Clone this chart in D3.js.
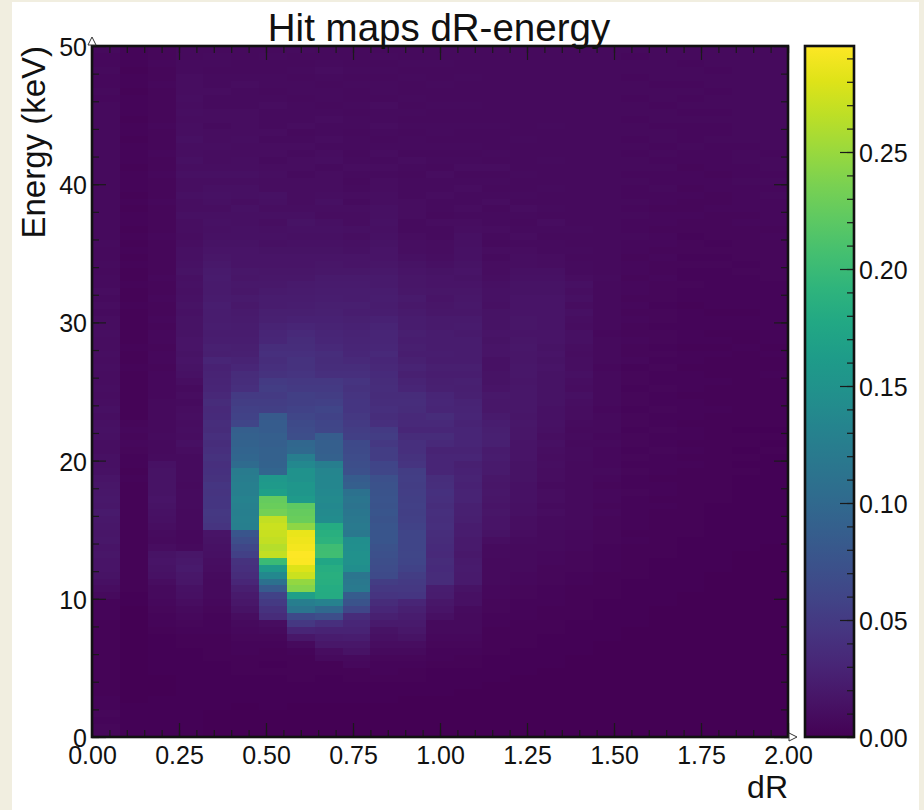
<!DOCTYPE html>
<html>
<head>
<meta charset="utf-8">
<script src="https://cdn.jsdelivr.net/npm/d3@7"></script>
<style>
  html, body { margin: 0; padding: 0; background: #f1eee0; }
  svg { display: block; }
  text { font-family: "Liberation Sans", Arial, sans-serif; fill: #111; }
</style>
</head>
<body>
<div id="chart"></div>
<script>
// --- DATOS ---
// una lista por bin de dR (ancho 0.08), 100 valores de abajo arriba (0.5 keV cada uno), en unidades de 0.001
const col00 = [5,5,4,5,4,4,3,3,3,3, 3,3,3,3,3,3,3,4,4,4, 8,10,12,14,16,16,17,16,18,17, 18,19,20,18,19,18,17,16,13,12,
  12,11,11,12,13,12,11,12,11,10, 11,10,10,11,10,11,10,10,11,10, 10,9,10,9,10,9,9,8,9,8, 8,9,8,8,7,8,7,8,7,7, 7,8,7,8,7,7,8,7,7,8, 7,7,6,7,6,6,7,6,6,7];
const col01 = [2,2,2,2,2,1,1,1,1,1, 1,1,1,1,1,1,1,1,1,2, 2,3,3,3,3,3,3,3,3,3, 3,3,3,3,3,3,3,4,3,4,
  4,5,6,5,6,5,3,3,3,3, 3,3,3,4,3,3,4,3,3,3, 3,3,4,3,3,4,3,3,4,3, 4,3,4,3,4,4,3,4,3,4, 4,4,3,4,4,4,3,4,4,3, 4,4,4,3,4,4,3,4,4,4];
const col02 = [2,2,2,2,2,2,1,1,1,2, 2,2,2,2,2,3,4,4,5,6, 7,8,10,13,14,15,14,10,8,9, 11,12,13,14,15,14,14,14,14,13,
  9,8,8,9,8,8,7,7,7,6, 6,6,6,5,6,6,5,6,6,5, 6,5,5,6,5,5,6,5,5,5, 5,5,6,5,5,5,5,6,5,5, 5,6,5,5,6,5,5,5,6,5, 5,5,5,5,6,5,5,6,5,5];
const col03 = [2,2,2,2,2,2,2,2,2,2, 2,2,2,3,3,4,5,6,8,10, 12,13,17,18,20,19,17,7,6,6, 7,8,8,9,9,9,8,9,9,9,
  9,10,12,10,11,10,11,10,9,10, 9,11,13,14,15,14,15,16,14,14, 14,13,14,13,12,13,12,14,13,12, 12,11,10,11,11,12,11,11,12,11, 11,12,11,12,11,11,12,11,11,10, 11,10,11,10,10,10,9,9,8,8];
const col04 = [1,1,1,1,2,2,2,2,2,2, 2,3,3,3,3,4,4,4,5,6, 7,8,8,9,10,11,12,13,14,15, 44,47,48,46,45,44,46,42,41,40,
  42,40,38,40,36,38,35,34,36,33, 30,29,28,27,30,25,26,24,23,24, 23,22,24,21,20,20,21,20,19,17, 15,14,13,12,13,12,11,12,13,12, 11,12,11,10,10,11,10,10,9,10, 10,9,9,10,9,9,8,9,9,8];
const col05 = [1,1,1,1,1,2,2,2,2,3, 3,3,4,4,5,6,8,10,14,18, 20,25,32,36,40,42,56,62,70,78, 126,128,126,128,130,126,126,124,122,102,
  96,94,92,90,88,60,58,56,52,50, 40,38,36,32,28,26,25,24,23,22, 21,20,19,20,18,19,17,18,16,16, 15,14,13,13,12,12,13,11,12,12, 11,12,11,11,10,10,11,10,10,10, 10,9,9,9,10,9,8,8,8,8];
const col06 = [1,1,1,1,2,2,2,2,2,3, 2,3,3,4,5,7,10,36,42,50, 58,84,110,138,160,200,268,262,268,270, 272,268,232,228,225,165,160,158,95,92,
  90,90,88,88,85,85,82,55,52,50, 52,50,42,40,38,40,38,32,30,28, 26,25,23,22,20,19,18,17,16,15, 14,12,13,12,11,12,11,12,13,10, 10,11,10,9,10,10,9,10,9,9, 9,10,9,8,9,9,8,8,9,8];
const col07 = [1,1,1,1,1,2,2,2,3,3, 3,3,4,8,18,30,48,65,115,125, 165,240,248,272,280,293,295,290,288,285, 245,228,225,222,160,155,155,150,150,138,
  125,100,98,70,68,66,62,58,55,55, 50,48,44,42,42,40,38,36,34,30, 27,25,24,22,21,20,18,17,16,15, 14,13,12,13,14,12,11,10,10,10, 10,9,10,10,9,10,9,8,10,9, 9,9,8,9,9,8,9,8,8,9];
const col08 = [1,1,1,1,1,2,2,2,2,3, 3,7,10,18,22,28,40,70,100,130, 180,182,185,186,184,175,205,204,190,186, 182,142,140,138,140,138,136,135,134,125,
  90,88,88,86,62,60,58,60,56,52, 50,48,40,38,36,38,34,32,30,28, 27,26,25,24,23,21,20,18,17,15, 14,13,12,13,12,10,11,12,11,10, 10,10,9,11,10,9,10,9,9,10, 9,8,9,9,8,9,10,9,8,8];
const col09 = [1,1,1,1,1,2,2,2,3,3, 6,8,14,18,24,28,32,36,62,75, 85,120,118,115,145,148,148,146,145,118, 120,118,116,112,115,110,88,85,72,70,
  68,66,65,55,52,50,48,46,45,44, 42,44,40,38,34,32,30,29,28,27, 26,24,25,22,23,21,20,18,16,15, 13,12,11,12,10,10,11,9,10,9, 8,9,10,9,8,9,9,8,9,9, 8,9,8,8,9,8,9,8,8,8];
const col10 = [1,1,1,1,1,2,2,2,3,4, 4,5,8,10,12,14,20,26,32,36, 44,48,52,66,68,70,72,74,78,78, 78,76,78,75,77,76,74,72,62,60,
  52,52,48,52,50,40,38,40,38,36, 38,36,35,33,32,34,32,30,31,29, 27,24,23,24,22,20,20,19,17,16, 15,14,13,12,13,12,12,11,11,10, 10,9,10,9,10,9,8,9,10,9, 9,10,8,9,9,8,9,8,9,8];
const col11 = [1,1,1,1,1,1,2,2,3,3, 4,5,8,10,14,18,20,22,26,30, 46,48,50,52,58,60,62,60,61,60, 58,56,55,56,55,54,53,54,52,44,
  42,40,40,36,32,34,34,36,38,36, 30,28,26,28,26,24,25,24,25,23, 22,20,19,20,18,17,17,15,14,12, 11,11,10,9,9,10,10,10,9,9, 9,8,9,10,8,9,9,8,9,8, 9,8,9,8,8,9,8,9,8,8];
const col12 = [1,1,1,1,1,1,2,2,2,2, 3,4,4,5,6,7,8,12,15,18, 22,24,36,36,35,36,34,35,36,38, 40,39,40,38,40,41,39,38,30,31,
  30,28,34,36,32,34,36,30,32,30, 26,25,24,25,22,24,22,23,22,20, 20,18,17,16,17,15,15,14,12,11, 10,10,9,9,10,8,9,9,10,9, 9,10,8,9,8,9,8,9,9,8, 8,9,8,8,9,8,8,9,8,8];
const col13 = [1,1,1,1,1,1,1,2,2,2, 3,3,4,5,6,7,7,8,9,12, 12,14,20,20,21,20,19,20,20,22, 22,25,26,26,28,28,27,28,27,26,
  30,28,31,30,30,28,30,29,28,26, 25,26,24,25,23,22,23,22,20,21, 20,18,19,18,17,16,14,15,14,13, 13,12,12,11,10,9,10,9,9,10, 9,8,10,9,8,9,8,8,9,8, 8,9,8,8,8,9,8,8,8,8];
const col14 = [1,1,1,1,1,1,1,1,2,2, 2,2,3,3,3,3,4,4,5,5, 6,6,7,7,8,8,9,9,11,14, 16,16,17,16,17,18,17,18,20,20,
  22,21,26,26,25,24,20,18,18,19, 16,14,14,13,13,15,15,14,15,14, 14,14,12,13,13,12,11,10,10,9, 10,8,9,10,9,9,8,10,9,8, 9,8,10,8,9,8,7,8,9,8, 8,8,7,8,8,7,8,8,7,8];
const col15 = [1,1,1,1,1,1,1,1,1,2, 2,2,2,3,3,3,3,4,4,4, 5,5,6,6,7,7,8,8,9,10, 11,11,12,12,13,13,13,14,14,14,
  15,15,16,17,17,18,17,18,18,18, 18,17,18,18,17,17,18,17,16,17, 17,16,15,15,14,14,13,12,11,11, 10,9,10,9,8,9,10,8,9,8, 7,9,8,8,7,8,9,8,7,8, 8,7,8,8,7,8,7,8,8,7];
const col16 = [1,1,1,1,1,1,1,1,1,1, 2,2,2,2,2,3,3,3,3,4, 4,4,5,5,5,6,6,7,7,8, 9,9,10,9,10,10,9,10,10,11,
  10,11,12,11,12,13,13,13,14,14, 14,14,14,15,14,15,14,15,16,15, 15,16,15,15,14,14,13,12,10,10, 9,9,8,9,10,8,9,8,8,9, 8,7,8,9,8,7,8,8,9,8, 7,8,8,7,8,8,7,8,8,7];
const col17 = [1,1,1,1,1,1,1,1,1,1, 1,1,2,2,2,2,2,3,3,3, 3,3,4,4,5,5,5,6,6,6, 7,7,8,7,8,8,7,8,8,8,
  9,9,8,9,8,9,10,10,11,12, 10,11,12,11,11,10,11,12,12,10, 11,12,10,12,11,12,10,9,9,8, 9,8,8,9,8,7,8,8,7,8, 8,7,8,7,8,8,7,8,7,8, 7,8,7,7,8,7,8,7,7,8];
const col18 = [1,1,1,1,1,1,1,1,1,1, 1,1,1,1,2,2,2,2,2,2, 3,3,3,3,4,4,4,4,5,5, 5,5,6,5,6,6,5,6,7,6,
  6,6,7,6,8,7,7,6,7,7, 8,7,7,6,7,8,7,7,6,7, 8,7,8,8,7,8,9,8,8,7, 8,7,7,8,7,8,7,7,8,7, 7,7,8,7,7,8,7,7,7,8, 7,8,7,7,8,7,7,7,8,7];
const col19 = [1,1,1,1,1,1,1,1,1,1, 1,1,1,1,1,1,2,2,2,2, 2,2,2,3,3,3,3,3,4,3, 4,4,4,4,4,5,4,4,5,4,
  5,4,5,5,4,5,5,4,5,5, 4,5,5,4,6,5,5,6,5,5, 6,5,6,5,6,6,5,6,6,5, 6,6,7,6,6,7,6,7,6,6, 7,6,7,7,6,7,6,7,7,6, 7,7,6,7,7,6,7,7,6,7];
const col20 = [1,1,1,1,1,1,1,1,1,1, 1,1,1,1,1,1,1,1,1,2, 2,2,2,2,2,2,3,3,3,3, 3,3,3,4,3,4,4,3,4,4,
  4,5,4,4,5,4,4,5,4,4, 5,4,4,5,4,5,4,5,5,4, 5,5,4,5,5,5,6,5,5,6, 5,6,6,5,6,6,5,6,6,7, 6,6,7,6,7,6,7,7,6,7, 7,6,7,7,6,7,8,7,7,7];
const col21 = [1,1,1,1,1,1,1,1,1,1, 1,1,1,1,1,1,1,1,1,1, 1,2,2,2,2,2,2,2,2,3, 3,3,3,3,3,3,3,3,3,4,
  3,4,3,4,4,3,4,4,4,3, 4,4,4,3,4,4,3,4,4,4, 4,4,3,4,4,5,4,4,5,4, 5,5,4,5,5,6,5,5,6,5, 6,6,5,6,6,7,6,6,6,7, 6,7,6,7,6,7,7,6,7,7];
const col22 = [1,1,1,1,1,1,1,1,1,1, 1,1,1,1,1,1,1,1,1,1, 1,1,1,1,2,2,2,2,2,2, 2,2,2,2,3,3,3,3,3,3,
  3,3,3,3,3,3,3,4,3,3, 3,4,3,3,3,4,3,4,3,4, 4,3,4,4,4,4,4,4,5,4, 5,4,5,5,5,5,6,5,5,6, 6,5,6,6,6,6,7,6,6,7, 6,7,7,6,7,7,6,7,7,7];
const col23 = [1,1,1,1,1,1,1,1,1,1, 1,1,1,1,1,1,1,1,1,1, 1,1,1,1,1,1,1,2,2,2, 2,2,2,2,2,2,2,2,3,2,
  3,2,3,3,2,3,3,3,3,3, 3,3,3,3,3,3,4,3,3,4, 4,3,4,4,4,4,4,5,4,5, 5,5,5,5,6,5,6,6,6,6, 7,6,6,7,7,6,8,7,7,8, 8,7,7,8,7,8,8,7,8,7];
const col24 = [1,1,1,1,1,1,1,1,1,1, 1,1,1,1,1,1,1,1,1,1, 1,1,1,1,1,1,1,1,2,2, 2,2,2,2,2,2,2,2,2,2,
  2,3,2,3,2,3,3,3,3,3, 3,3,4,3,3,4,3,4,4,4, 4,4,4,4,4,4,5,5,5,5, 5,5,6,5,6,6,6,6,7,6, 7,6,7,7,6,7,8,7,8,7, 8,7,8,7,8,8,7,8,7,8];
const columns = [col00,col01,col02,col03,col04,col05,col06,col07,col08,col09,col10,col11,col12,
  col13,col14,col15,col16,col17,col18,col19,col20,col21,col22,col23,col24];

const dRBinWidth = 0.08;
const energyBinWidth = 0.5;
const dRTicks = [0, 0.25, 0.5, 0.75, 1, 1.25, 1.5, 1.75, 2];
const dRMinorTicks = d3.range(0, 2.0001, 0.05);
const energyTicks = [0, 10, 20, 30, 40, 50];
const energyMinorTicks = d3.range(0, 50.001, 2);
const colorTicks = [0, 0.05, 0.1, 0.15, 0.2, 0.25];
const colorMinorTicks = d3.range(0, 0.295, 0.01);
const colorMax = 0.2953;

// --- SVG ---
const svg = d3.select("#chart").append("svg").attr("width", 924).attr("height", 810);
svg.append("rect").attr("x", 12).attr("y", 2).attr("width", 907).attr("height", 808).attr("fill", "#fff");

const plotLeft = 92, plotRight = 788, plotTop = 46, plotBottom = 737;
const cbLeft = 805, cbRight = 854;

const x = d3.scaleLinear().domain([0, 2]).range([plotLeft, plotRight]);
const y = d3.scaleLinear().domain([0, 50]).range([plotBottom, plotTop]);
const yColor = d3.scaleLinear().domain([0, colorMax]).range([plotBottom, plotTop]);
const color = d3.scaleSequential(d3.interpolateViridis).domain([0, colorMax]);

// Celdas
const cells = [];
columns.forEach((col, i) => col.forEach((v, j) => cells.push({ i, j, v: v / 1000 })));

svg.append("g").attr("class", "cells").attr("shape-rendering", "crispEdges")
  .selectAll("rect").data(cells).join("rect")
  .attr("x", d => x(d.i * dRBinWidth))
  .attr("y", d => y((d.j + 1) * energyBinWidth))
  .attr("width", dRBinWidth * (x(1) - x(0)) + 0.5)
  .attr("height", energyBinWidth * (y(0) - y(1)) + 0.5)
  .attr("fill", d => color(d.v));

// Barra de color
const grad = svg.append("defs").append("linearGradient").attr("id", "cb")
  .attr("x1", 0).attr("y1", 1).attr("x2", 0).attr("y2", 0);
d3.range(0, 1.001, 0.05).forEach(t => {
  grad.append("stop").attr("offset", t).attr("stop-color", d3.interpolateViridis(t));
});
svg.append("rect").attr("x", cbLeft).attr("y", plotTop).attr("width", cbRight - cbLeft)
  .attr("height", plotBottom - plotTop).attr("fill", "url(#cb)");

// Marcas hacia dentro
function ticks(axisFn, scale, values, size, translate, labels) {
  const axis = axisFn(scale).tickValues(values).tickSize(-size).tickPadding(0);
  if (!labels) axis.tickFormat("");
  const g = svg.append("g").attr("transform", translate).call(axis);
  g.select(".domain").remove();
  g.selectAll("line").attr("stroke", "#1a1a1a").attr("stroke-width", 1.2);
  return g;
}

ticks(d3.axisBottom, x, dRMinorTicks, 7, `translate(0,${plotBottom})`);
ticks(d3.axisTop, x, dRMinorTicks, 7, `translate(0,${plotTop})`);
ticks(d3.axisTop, x, dRTicks, 14, `translate(0,${plotTop})`);
ticks(d3.axisLeft, y, energyMinorTicks, 7, `translate(${plotLeft},0)`);
ticks(d3.axisRight, y, energyMinorTicks, 7, `translate(${plotRight},0)`);
ticks(d3.axisRight, y, energyTicks, 14, `translate(${plotRight},0)`);
ticks(d3.axisRight, yColor, colorMinorTicks, 7, `translate(${cbRight},0)`);

const xAxis = ticks(d3.axisBottom, x, dRTicks, 14, `translate(0,${plotBottom})`, true);
xAxis.selectAll("text").text(d => d3.format(".2f")(d))
  .attr("y", 27).attr("dy", 0).attr("font-size", 25).attr("text-anchor", "middle");

const yAxis = ticks(d3.axisLeft, y, energyTicks, 14, `translate(${plotLeft},0)`, true);
yAxis.selectAll("text").text(d => d)
  .attr("x", -5).attr("dy", 9.5).attr("font-size", 25).attr("text-anchor", "end");

const cAxis = ticks(d3.axisRight, yColor, colorTicks, 14, `translate(${cbRight},0)`, true);
cAxis.selectAll("text").text(d => d3.format(".2f")(d))
  .attr("x", 5).attr("dy", 9.5).attr("font-size", 25).attr("text-anchor", "start");

// Marcos
[[plotLeft, plotRight], [cbLeft, cbRight]].forEach(([a, b]) => {
  svg.append("rect").attr("x", a).attr("y", plotTop).attr("width", b - a).attr("height", plotBottom - plotTop)
    .attr("fill", "none").attr("stroke", "#111").attr("stroke-width", 2.6);
});

// Flechas de los ejes
svg.append("path").attr("d", `M${plotLeft - 4},${plotTop - 1}L${plotLeft},${plotTop - 9}L${plotLeft + 4},${plotTop - 1}Z`)
  .attr("fill", "#fff").attr("stroke", "#333").attr("stroke-width", 1);
svg.append("path").attr("d", `M${plotRight + 1},${plotBottom - 4}L${plotRight + 9},${plotBottom}L${plotRight + 1},${plotBottom + 4}Z`)
  .attr("fill", "#fff").attr("stroke", "#333").attr("stroke-width", 1);

// Textos
svg.append("text").attr("x", 439).attr("y", 41).attr("text-anchor", "middle")
  .attr("font-size", 38.5).text("Hit maps dR-energy");
svg.append("text").attr("x", plotRight).attr("y", 798).attr("text-anchor", "end")
  .attr("font-size", 32).text("dR");
svg.append("text").attr("transform", `translate(45,${plotTop}) rotate(-90)`).attr("text-anchor", "end")
  .attr("font-size", 33).text("Energy (keV)");
</script>
</body>
</html>
